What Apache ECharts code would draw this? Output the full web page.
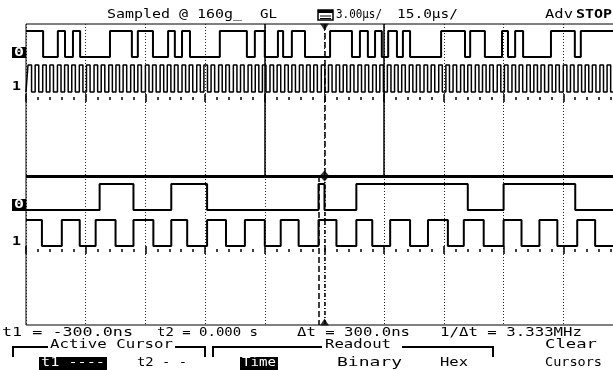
<!DOCTYPE html>
<html>
<head>
<meta charset="utf-8">
<style>
  html, body { margin: 0; padding: 0; background: #fff; }
  #main { width: 613px; height: 370px; }
</style>
<script src="https://cdn.jsdelivr.net/npm/echarts@6/dist/echarts.min.js"></script>
</head>
<body>
<div id="main"></div>
<script>
// time in us. main sweep 15us/div, delayed (zoom) sweep 3us/div
const mainSpan = [-75, 75];
const mainDiv = 15;
const zoomSpan = [-15, 15];
const zoomDiv = 3;

// main sweep, channel 0: edge times, starts high
const mainCh0Start = 1;
const mainCh0Edges = [-70.7, -67.0, -65.2, -63.2, -61.4, -53.9, -48.4, -46.9, -43.1, -39.3,
  -37.6, -35.8, -33.8, -26.3, -19.5, -17.5, -15.0, -11.7, -10.4, -8.2, -4.9, 1.4, 6.9, 8.9,
  10.9, 12.7, 14.4, 16.0, 18.2, 19.7, 21.5, 29.3, 35.3, 36.6, 40.3, 44.6, 46.1, 47.9, 49.9,
  56.9, 62.9, 64.4];

// main sweep, channel 1 (clock): rising edges and high time
const mainCh1Rises = [-74.5, -72.7, -70.8, -69.0, -67.1, -65.3, -63.5, -61.6, -59.8, -57.9,
  -56.1, -54.2, -52.4, -50.6, -48.7, -46.9, -45.0, -43.2, -41.3, -39.5, -37.7, -35.8, -34.0,
  -32.1, -30.3, -28.5, -26.6, -24.8, -22.9, -21.1, -19.2, -17.4, -15.6, -13.7, -11.9, -10.0,
  -8.2, -6.3, -4.5, -2.7, -0.8, 1.0, 2.9, 4.7, 6.5, 8.4, 10.2, 12.1, 13.9, 15.8, 17.6, 19.4,
  21.3, 23.1, 25.0, 26.8, 28.7, 30.5, 32.3, 34.2, 36.0, 37.9, 39.7, 41.5, 43.4, 45.2, 47.1,
  48.9, 50.8, 52.6, 54.4, 56.3, 58.1, 60.0, 61.8, 63.7, 65.5, 67.3, 69.2, 71.0, 72.9];
const mainCh1High = 0.9;

// delayed sweep
const zoomCh0Start = 0;
const zoomCh0Edges = [-11.3, -9.6, -7.7, -5.9, -0.3, 0.0, 1.6, 7.2, 9.0, 12.6];
const zoomCh1Start = 1;
const zoomCh1Edges = [-14.2, -13.2, -12.3, -11.5, -10.5, -9.6, -8.6, -7.7, -6.9, -5.9, -4.95,
  -4.0, -3.0, -2.2, -1.3, -0.3, 0.6, 1.6, 2.4, 3.3, 4.3, 5.2, 6.2, 7.0, 8.0, 9.0, 9.9, 10.8,
  11.7, 12.7, 13.6];

// zoom window on main sweep, cursors
const zoomWindow = [-15, 15];
const cursorT1 = -0.3;
const cursorT2 = 0;

// trace rows inside each pane (pixels from pane top)
const mainRows = { ch0: [7, 33], ch1: [41, 68] };
const zoomRows = { ch0: [8, 34], ch1: [44, 70] };

function steps(edges, start, span, row) {
  let lvl = start;
  const y = () => (lvl ? row[0] : row[1]);
  const pts = [[span[0], y()]];
  edges.forEach(function (e) {
    pts.push([e, y()]);
    lvl = 1 - lvl;
    pts.push([e, y()]);
  });
  pts.push([span[1], y()]);
  return pts;
}

const clockEdges = [];
mainCh1Rises.forEach(function (r) {
  clockEdges.push(r, r + mainCh1High);
});

const ctx = document.createElement('canvas').getContext('2d');
function txt(str, x0, x1, yc, opt) {
  opt = opt || {};
  const font = (opt.bold ? 'bold ' : '') + (opt.size || 13) + 'px "DejaVu Sans Mono"';
  ctx.font = font;
  const w = ctx.measureText(str).width;
  return {
    type: 'text', x: x0, y: yc, scaleX: (x1 - x0) / w, z: 20,
    style: {
      text: str, font: font, fill: opt.fill || '#000',
      align: 'left', verticalAlign: 'middle', textAlign: 'left', textVerticalAlign: 'middle'
    }
  };
}
function box(x, y, w, h) {
  return { type: 'rect', shape: { x: x, y: y, width: w, height: h }, style: { fill: '#000' }, z: 15 };
}
function poly(points, width) {
  return { type: 'polyline', shape: { points: points }, style: { stroke: '#000', lineWidth: width || 2, fill: null }, z: 15 };
}

function baseAxis(grid, span, div) {
  return {
    type: 'value', gridIndex: grid, min: span[0], max: span[1], interval: div,
    axisLine: { show: false }, axisLabel: { show: false }, axisTick: { show: false },
    splitLine: { show: true, lineStyle: { color: '#222', type: [1, 2], width: 1 } }
  };
}
function tickAxis(grid, span, div, y0, major) {
  return {
    type: 'value', gridIndex: grid, min: span[0], max: span[1], interval: div,
    position: 'top', offset: -y0,
    axisLine: { show: false }, axisLabel: { show: false }, splitLine: { show: false },
    axisTick: { show: major, inside: true, length: 8, lineStyle: { color: '#000', width: 1.5 } },
    minorTick: { show: !major, splitNumber: 5, length: 3, lineStyle: { color: '#000', width: 1.5 } }
  };
}
function trace(xi, yi, data, width, color) {
  return {
    type: 'line', xAxisIndex: xi, yAxisIndex: yi, data: data, showSymbol: false,
    lineStyle: { color: color || '#000', width: width }, z: 5, silent: true
  };
}

const chart = echarts.init(document.getElementById('main'), null, { renderer: 'canvas' });

chart.setOption({
  animation: false,
  backgroundColor: '#fff',
  grid: [
    { left: 26, top: 24, width: 597, height: 152, show: true, borderColor: '#000', borderWidth: 1, outerBoundsMode: 'none' },
    { left: 26, top: 176, width: 597, height: 149, show: true, borderColor: '#000', borderWidth: 1, outerBoundsMode: 'none' }
  ],
  xAxis: [
    baseAxis(0, mainSpan, mainDiv),
    tickAxis(0, mainSpan, mainDiv, 73, false),
    tickAxis(0, mainSpan, mainDiv, 70, true),
    baseAxis(1, zoomSpan, zoomDiv),
    tickAxis(1, zoomSpan, zoomDiv, 73, false),
    tickAxis(1, zoomSpan, zoomDiv, 70, true)
  ],
  yAxis: [
    { type: 'value', gridIndex: 0, min: 0, max: 152, inverse: true, show: false },
    { type: 'value', gridIndex: 1, min: 0, max: 149, inverse: true, show: false }
  ],
  series: [
    Object.assign(trace(0, 0, steps(mainCh0Edges, mainCh0Start, mainSpan, mainRows.ch0), 2), {
      markLine: {
        symbol: 'none', silent: true, label: { show: false },
        lineStyle: { color: '#000', width: 1.5, type: 'solid' },
        data: [
          { xAxis: zoomWindow[0] },
          { xAxis: zoomWindow[1] },
          { xAxis: cursorT2, lineStyle: { type: [6, 3], width: 1.5 } }
        ]
      }
    }),
    trace(0, 0, steps(clockEdges, 0, mainSpan, mainRows.ch1), 1.5, '#000'),
    Object.assign(trace(3, 1, steps(zoomCh0Edges, zoomCh0Start, zoomSpan, zoomRows.ch0), 2), {
      markLine: {
        symbol: 'none', silent: true, label: { show: false },
        lineStyle: { color: '#000', width: 1.5 },
        data: [
          { xAxis: cursorT1, lineStyle: { type: [6, 3] } },
          { xAxis: cursorT2, lineStyle: { type: [4, 2, 1, 2] } }
        ]
      }
    }),
    trace(3, 1, steps(zoomCh1Edges, zoomCh1Start, zoomSpan, zoomRows.ch1), 2),
    {
      type: 'scatter', xAxisIndex: 0, yAxisIndex: 0, silent: true, z: 8,
      itemStyle: { color: '#000' },
      data: [
        { value: [cursorT2, 3], symbol: 'triangle', symbolRotate: 180, symbolSize: [9, 7] },
        { value: [cursorT2, 152], symbol: 'diamond', symbolSize: [10, 11] }
      ]
    },
    {
      type: 'scatter', xAxisIndex: 3, yAxisIndex: 1, silent: true, z: 8,
      itemStyle: { color: '#000' },
      data: [
        { value: [cursorT2, 146], symbol: 'triangle', symbolSize: [9, 7] }
      ]
    }
  ],
  graphic: [
    box(26, 175, 587, 3),
    // top status line
    txt('Sampled @ 160g\u0332', 107, 242, 15),
    txt('GL', 260, 277, 15),
    { type: 'rect', shape: { x: 318, y: 10, width: 15, height: 10 }, style: { fill: null, stroke: '#000', lineWidth: 1.5 }, z: 15 },
    box(318, 10, 15, 3),
    poly([[320, 16], [331, 16]], 1),
    poly([[320, 18.5], [331, 18.5]], 1),
    txt('3.00\u00b5s/', 336, 382, 15),
    txt('15.0\u00b5s/', 397, 458, 15),
    txt('Adv', 545, 573, 15),
    txt('STOP', 576, 612, 15, { bold: true }),
    // channel labels
    box(12, 47, 14, 11),
    txt('0', 14, 24, 52.5, { bold: true, fill: '#fff', size: 12 }),
    txt('1', 12, 21, 87, { bold: true }),
    box(12, 199, 14, 12),
    txt('0', 14, 24, 205, { bold: true, fill: '#fff', size: 12 }),
    txt('1', 12, 21, 242, { bold: true }),
    // cursor readout
    txt('t1 = -300.0ns', 2, 133, 333),
    txt('t2 = 0.000 s', 157, 258, 333),
    txt('\u0394t = 300.0ns', 297, 410, 333),
    txt('1/\u0394t = 3.333MHz', 440, 582, 333),
    // softkey labels
    poly([[13, 357], [13, 347], [48, 347]]),
    txt('Active Cursor', 50, 173, 345),
    poly([[175, 347], [205, 347], [205, 357]]),
    poly([[213, 357], [213, 347], [322, 347]]),
    txt('Readout', 325, 391, 345),
    poly([[402, 347], [493, 347], [493, 357]]),
    txt('Clear', 545, 597, 345),
    box(39, 357, 68, 13),
    txt('t1 ----', 41, 105, 363, { fill: '#fff' }),
    txt('t2 - -', 137, 187, 363),
    box(240, 357, 38, 13),
    txt('Time', 242, 276, 363, { fill: '#fff' }),
    txt('Binary', 337, 402, 363),
    txt('Hex', 440, 468, 363),
    txt('Cursors', 545, 602, 363)
  ]
});
</script>
</body>
</html>
